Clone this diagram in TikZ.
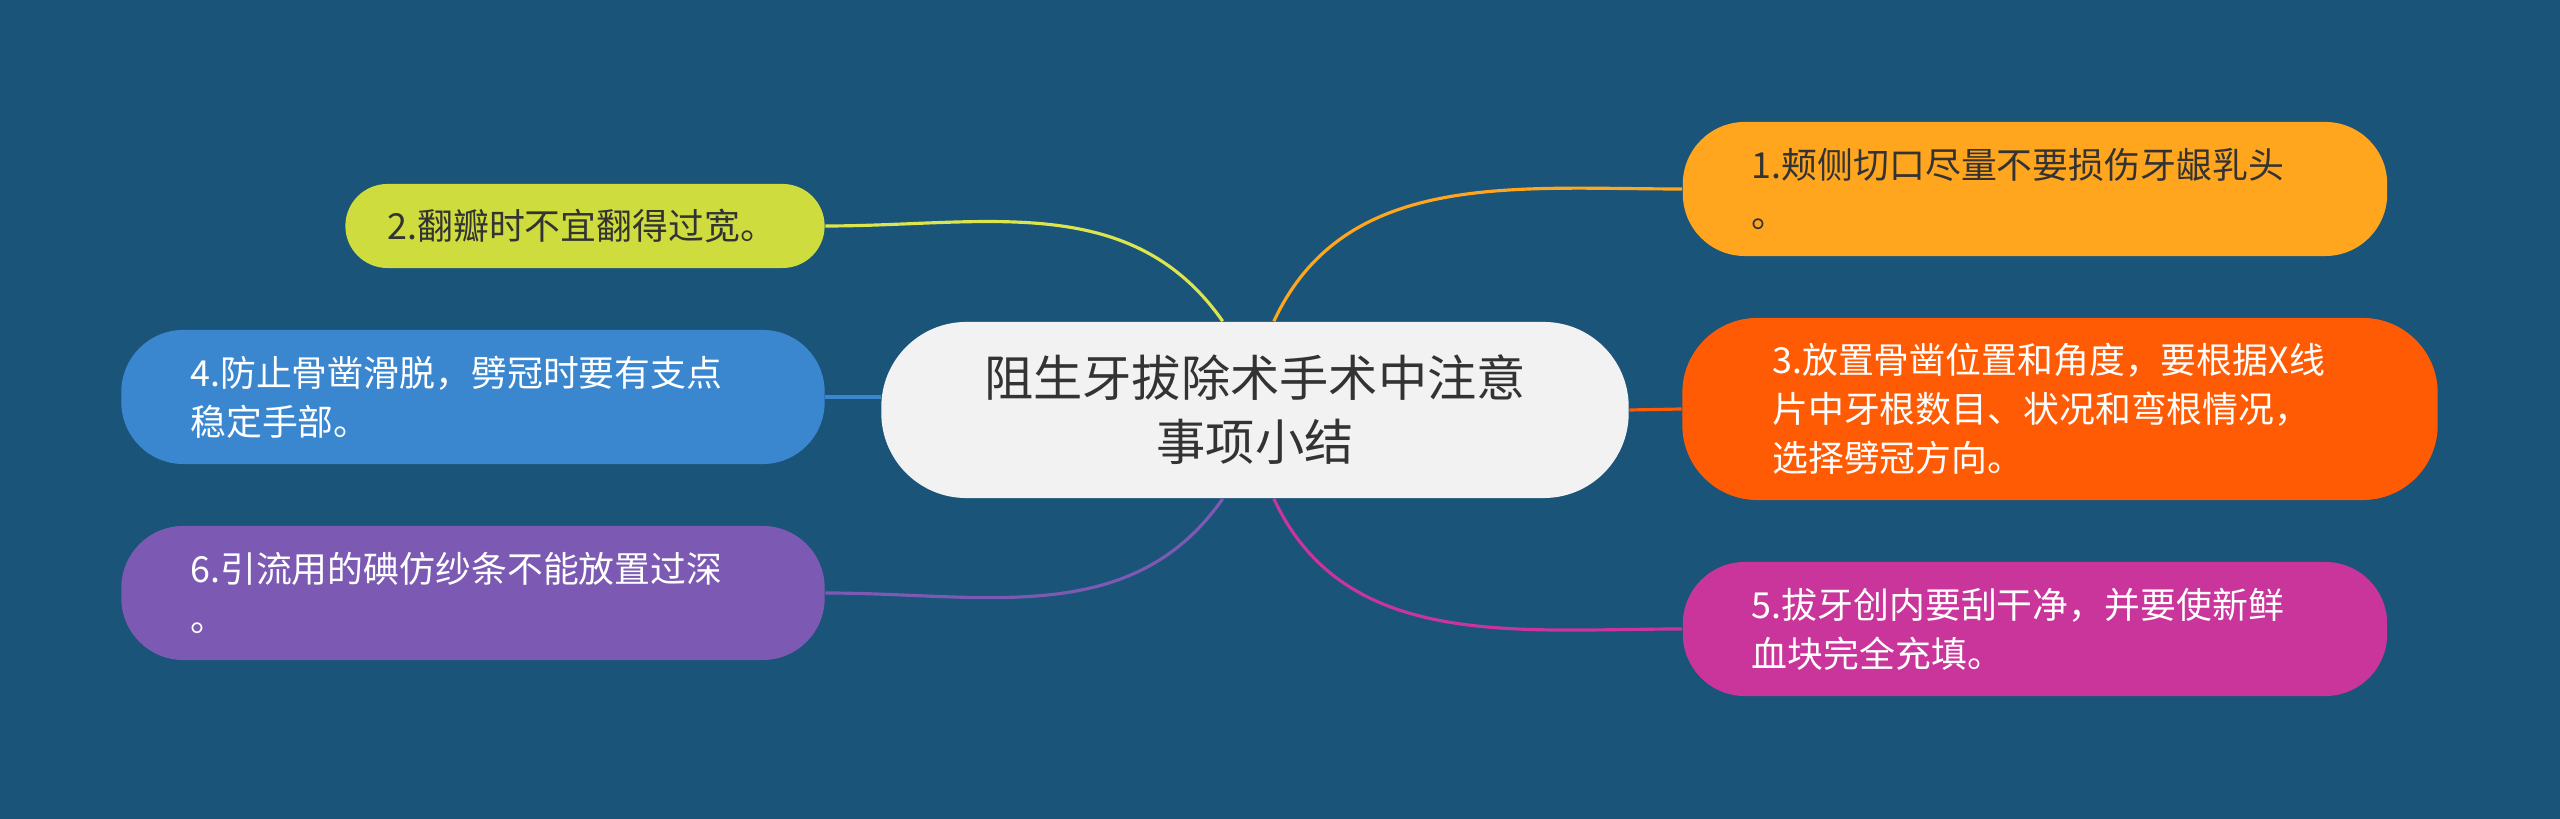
\documentclass[tikz,border=0pt]{standalone}
\usepackage{fontspec}
\setmainfont{Noto Sans CJK SC}
\usepackage{xcolor}
\usepackage{tikz}
\usetikzlibrary{calc}
\definecolor{bgblue}{HTML}{1A5478}
\definecolor{topicgray}{HTML}{F2F2F2}
\definecolor{darktext}{HTML}{333333}
\definecolor{goldfill}{HTML}{FFA51E}
\definecolor{limefill}{HTML}{CEDD3D}
\definecolor{limeline}{HTML}{DCE44E}
\definecolor{redfill}{HTML}{FF5B04}
\definecolor{bluefill}{HTML}{3A87D0}
\definecolor{pinkfill}{HTML}{C9359A}
\definecolor{violetfill}{HTML}{7C5AB3}

\begin{document}
\begin{tikzpicture}[
        x=0.01cm, y=-0.01cm,
        topic/.style={rectangle, fill=topicgray, rounded corners=0.85cm, minimum width=7.47cm, minimum height=1.76cm, align=center, text=darktext, font=\fontsize{14pt}{18.2pt}\selectfont},
        leaf/.style={rectangle, rounded corners=0.62cm, minimum height=1.34cm, align=left, inner sep=0pt, text=white, font=\fontsize{10.2pt}{14pt}\selectfont},
        link/.style={line width=0.9pt}
    ]

        % Background
        \fill[bgblue] (0,0) rectangle (2560,819);

        % Central topic
        \node[topic] (mid) at (1255,410) {阻生牙拔除术手术中注意\\事项小结};

        % Right branches
        \node[leaf, fill=goldfill, text=darktext, minimum width=7.04cm, text width=5.66cm] (n1) at (2035,189) {1.颊侧切口尽量不要损伤牙龈乳头\\。};
        \node[leaf, fill=redfill, minimum width=7.55cm, minimum height=1.82cm, rounded corners=0.75cm, text width=5.75cm] (n3) at (2060,409) {3.放置骨凿位置和角度，要根据X线\\片中牙根数目、状况和弯根情况，\\选择劈冠方向。};
        \node[leaf, fill=pinkfill, minimum width=7.04cm, text width=5.66cm] (n5) at (2035,629) {5.拔牙创内要刮干净，并要使新鲜\\血块完全充填。};

        % Left branches
        \node[leaf, fill=limefill, text=darktext, minimum width=4.79cm, minimum height=0.84cm, rounded corners=0.42cm, text width=3.95cm] (n2) at (585,226) {2.翻瓣时不宜翻得过宽。};
        \node[leaf, fill=bluefill, minimum width=7.03cm, text width=5.65cm] (n4) at (473,397) {4.防止骨凿滑脱，劈冠时要有支点\\稳定手部。};
        \node[leaf, fill=violetfill, minimum width=7.03cm, text width=5.65cm] (n6) at (473,593) {6.引流用的碘仿纱条不能放置过深\\。};

        % Connectors
        \draw[link, goldfill] (mid.78) to[out=65, in=180] (n1.west);
        \draw[link, redfill] (mid.east) -- (n3.west);
        \draw[link, pinkfill] (mid.-78) to[out=-65, in=180] (n5.west);
        \draw[link, limeline] (mid.110) to[out=125, in=0] (n2.east);
        \draw[link, bluefill] (mid.west |- n4.east) -- (n4.east);
        \draw[link, violetfill] (mid.-110) to[out=-125, in=0] (n6.east);

    \end{tikzpicture}
\end{document}
